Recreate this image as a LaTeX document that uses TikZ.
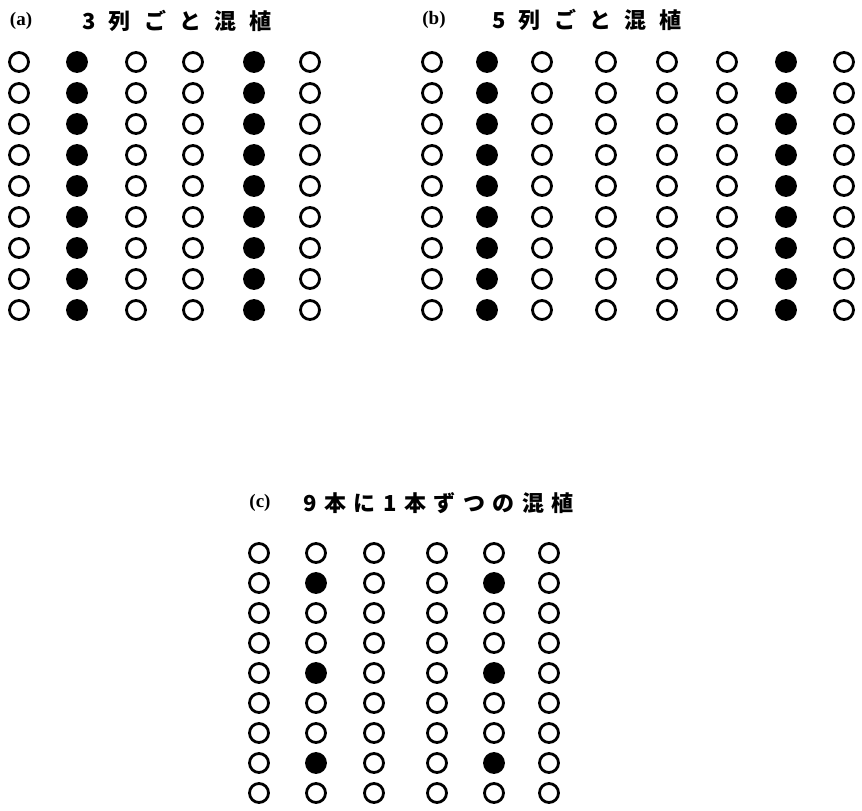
\documentclass[tikz,border=0pt]{standalone}
\usepackage{fontspec}
\newfontfamily\tagfont{Liberation Serif}
\newfontfamily\jwide[LetterSpace=60]{Noto Sans CJK JP}
\newfontfamily\jnarrow[LetterSpace=34]{Noto Sans CJK JP}
\begin{document}
\begin{tikzpicture}[
  x=1pt, y=-1pt,
  every node/.style={circle,draw,line width=2.8pt,minimum size=19pt,inner sep=0pt},
  paneltag/.style={draw=none,rectangle,font=\tagfont\bfseries\fontsize{19}{22}\selectfont},
  title/.style={draw=none,rectangle,anchor=west,inner sep=0pt,font=\bfseries\fontsize{22}{26}\selectfont}
]
  \useasboundingbox (0,0) rectangle (862,811);

  \node[paneltag] (ta) at (21,21) {(a)};
  \node[title]    (na) at (81,21) {\jwide 3列ごと混植};
  \foreach \x/\fc [count=\i] in {19/white,77/black,136/white,193/white,254/black,310/white}
    \foreach \r in {1,...,9}
      \node[fill=\fc] (a\i-\r) at (\x,{62+31*(\r-1)}) {};

  \node[paneltag] (tb) at (434,20) {(b)};
  \node[title]    (nb) at (491,20) {\jwide 5列ごと混植};
  \foreach \x/\fc [count=\i] in {432/white,487/black,542/white,606/white,667/white,727/white,786/black,844/white}
    \foreach \r in {1,...,9}
      \node[fill=\fc] (b\i-\r) at (\x,{62+31*(\r-1)}) {};

  \node[paneltag] (tc) at (260,503) {(c)};
  \node[title]    (nc) at (302,503) {\jnarrow 9本に1本ずつの混植};
  \foreach \x/\k [count=\i] in {259/0,316/1,374/0,437/0,494/1,549/0}
    \foreach \r in {1,...,9} {
      \pgfmathtruncatemacro\m{\k*(mod(\r,3)==2)}
      \ifnum\m=1 \def\fc{black}\else\def\fc{white}\fi
      \node[fill=\fc] (c\i-\r) at (\x,{553+30*(\r-1)}) {};
    }
\end{tikzpicture}
\end{document}
